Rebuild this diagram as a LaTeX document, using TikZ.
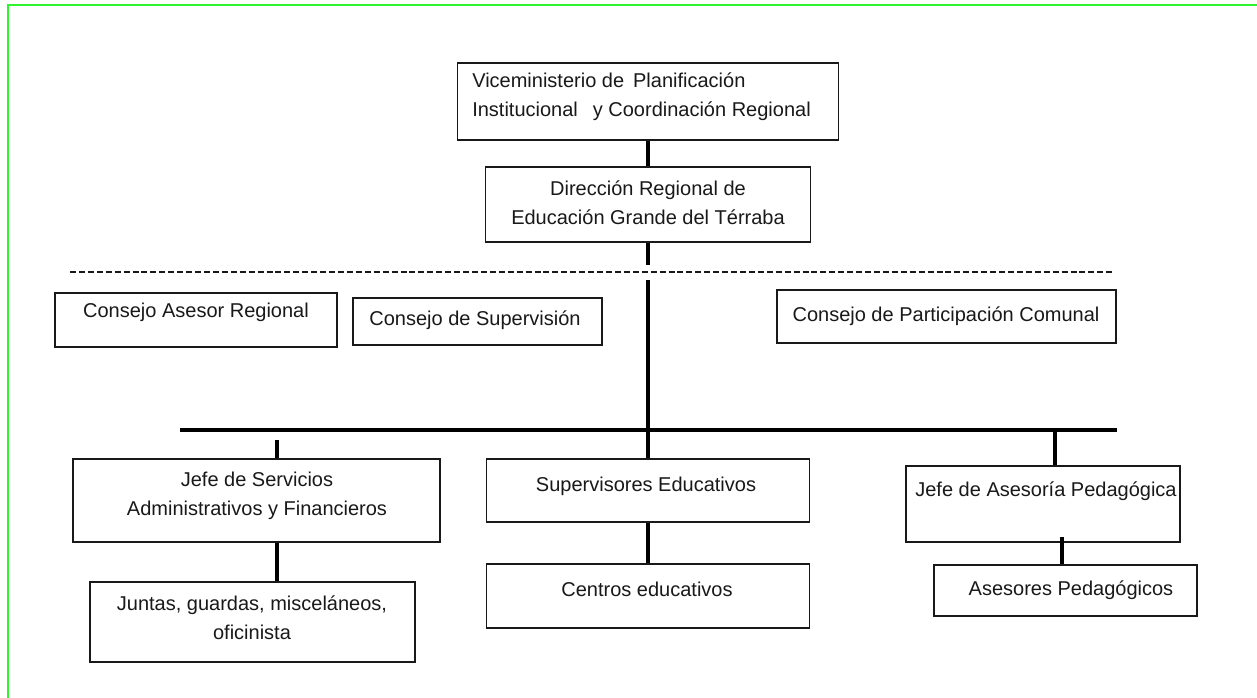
\documentclass[tikz,border=0pt]{standalone}
\usepackage{fontspec}
\setmainfont{Liberation Sans}
\definecolor{frameGreen}{RGB}{45,245,45}
\definecolor{inkc}{RGB}{25,25,25}
\begin{document}
\begin{tikzpicture}[x=0.75pt,y=-0.75pt,
  box/.style={draw=inkc, line width=1.3pt, inner sep=0pt, fill=none},
  sz/.style 2 args={minimum width=#1*0.75pt, minimum height=#2*0.75pt},
  txt/.style={font=\fontsize{15}{21.75}\selectfont, align=center, text=inkc, inner sep=0pt},
  conn/.style={draw=black, line width=3pt},
  dashline/.style={draw=inkc, line width=0.85pt, dash pattern=on 4.5pt off 2.2pt},
  frameline/.style={draw=frameGreen, line width=1.9pt}]
\useasboundingbox (0,0) rectangle (1257,698);
\fill[white] (0,0) rectangle (1257,698);
% green frame
\coordinate (gTL) at (8,5);
\coordinate (gTR) at (1257,5);
\coordinate (gBL) at (8,698);
\draw[frameline] (gTR) -- (gTL) -- (gBL);

% top boxes
\node[box, sz={381}{77}] (A) at (648,101.5) {};
\node[txt, align=left, anchor=west] (Atxt) at (472,97)
  {Viceministerio de\hspace{0.45em}Planificación\\Institucional\hspace{0.75em}y Coordinación Regional};
\node[box, sz={325}{75}] (B) at (648,204.5) {};
\node[txt] (Btxt) at (648,203) {Dirección Regional de\\Educación Grande del Térraba};

% dashed line
\coordinate (dashL) at (70,272);
\coordinate (dashR) at (1115,272);
\draw[dashline] (dashL) -- (dashR);

% consejos
\node[box, sz={282}{54}] (C1) at (196,320) {};
\node[txt] (C1txt) at (196,312) {Consejo Asesor Regional};
\node[box, sz={249}{47}] (C2) at (477.5,321.5) {};
\node[txt] (C2txt) at (475,320) {Consejo de Supervisión};
\node[box, sz={339}{53}] (C3) at (946.5,316.5) {};
\node[txt] (C3txt) at (946,316) {Consejo de Participación Comunal};

% main trunk and bar
\coordinate (d1) at (648,265);
\coordinate (d2) at (648,280);
\coordinate (barL) at (180,430);
\coordinate (barR) at (1117,430);
\coordinate (barM) at (648,430);
\coordinate (t1) at (277,440);
\coordinate (t3) at (1055,430);
\coordinate (t4) at (1062,537);
\draw[conn] (A.south) -- (B.north);
\draw[conn] (B.south) -- (d1);
\draw[conn] (d2) -- (barM);
\draw[conn] (barL) -- (barR);

% second level
\node[box, sz={367}{83}] (D1) at (256.5,500.5) {};
\node[txt] (D1txt) at (257,496) {Jefe de Servicios\\Administrativos y Financieros};
\node[box, sz={323}{63}] (D2) at (648,490.5) {};
\node[txt] (D2txt) at (646,486) {Supervisores Educativos};
\node[box, sz={274}{76}] (D3) at (1043,504) {};
\node[txt] (D3txt) at (1046,491) {Jefe de Asesoría Pedagógica};

% third level
\node[box, sz={325}{80}] (E1) at (252.5,622) {};
\node[txt] (E1txt) at (252,618) {Juntas, guardas, misceláneos,\\oficinista};
\node[box, sz={323}{64}] (E2) at (648,596) {};
\node[txt] (E2txt) at (647,589) {Centros educativos};
\node[box, sz={263}{51}] (E3) at (1065.5,590.5) {};
\node[txt] (E3txt) at (1071,590) {Asesores Pedagógicos};

% drops
\draw[conn] (t1) -- (t1 |- D1.north);
\draw[conn] (barM) -- (D2.north);
\draw[conn] (t3) -- (t3 |- D3.north);
\draw[conn] (D1.south -| t1) -- (E1.north -| t1);
\draw[conn] (D2.south) -- (E2.north);
\draw[conn] (t4) -- (t4 |- E3.north);
\end{tikzpicture}
\end{document}
